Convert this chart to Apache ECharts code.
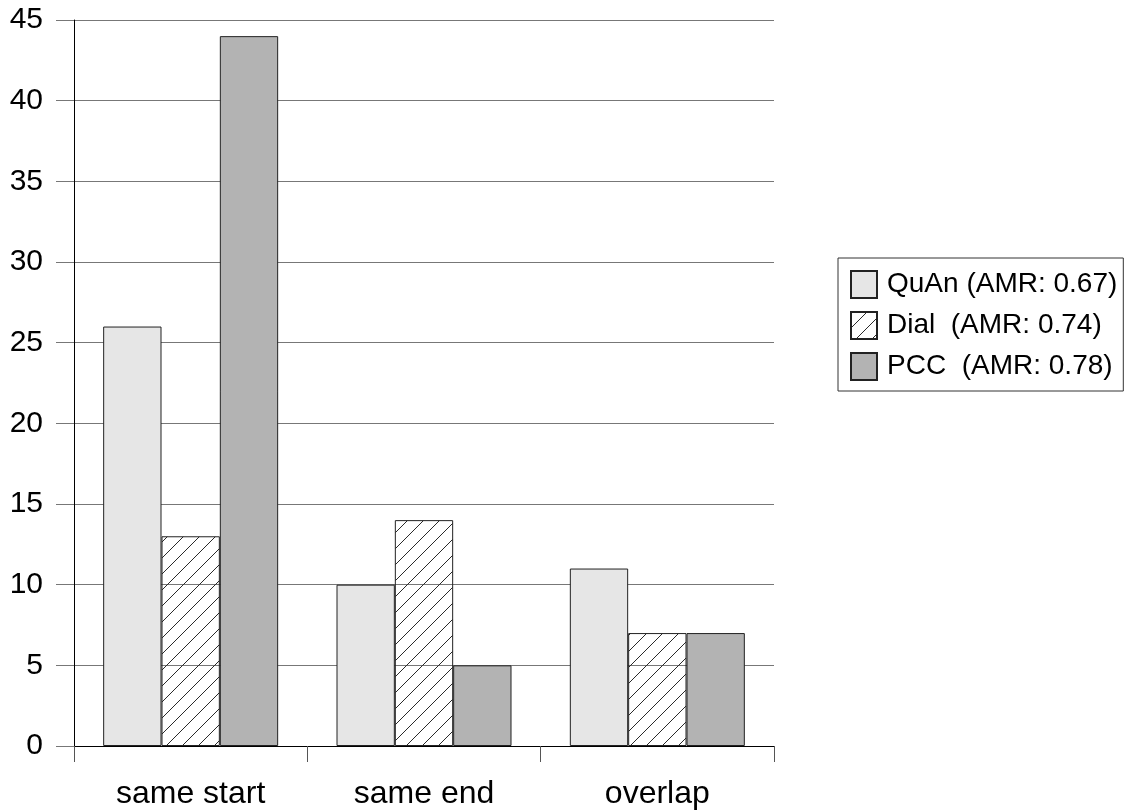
<!DOCTYPE html>
<html>
<head>
<meta charset="utf-8">
<script src="https://cdn.jsdelivr.net/npm/echarts@6/dist/echarts.min.js"></script>
<style>
html,body{margin:0;padding:0;background:#fff;}
#chart{width:1126px;height:811px;}
</style>
</head>
<body>
<div id="chart"></div>
<script>
const categories = ['same start', 'same end', 'overlap'];
const seriesNames = ['QuAn (AMR: 0.67)', 'Dial  (AMR: 0.74)', 'PCC  (AMR: 0.78)'];
const quanValues = [26, 10, 11];
const dialValues = [13, 14, 7];
const pccValues = [44, 5, 7];
const yMin = 0, yMax = 45, yStep = 5;

function hatch() {
  const s = 16;
  const c = document.createElement('canvas');
  c.width = s; c.height = s;
  const g = c.getContext('2d');
  g.strokeStyle = '#2a2a2a';
  g.lineWidth = 1;
  g.beginPath();
  g.moveTo(0, s); g.lineTo(s, 0);
  g.moveTo(-s/2, s/2); g.lineTo(s/2, -s/2);
  g.moveTo(s/2, s*1.5); g.lineTo(s*1.5, s/2);
  g.stroke();
  return c;
}

const font = '"Liberation Sans", Arial, sans-serif';
const border = {borderColor: '#222', borderWidth: 1};

const chart = echarts.init(document.getElementById('chart'), null, {renderer: 'canvas'});
chart.setOption({
  animation: false,
  backgroundColor: '#fff',
  textStyle: {fontFamily: font},
  grid: {left: 74, right: 352, top: 20, bottom: 65, containLabel: false},
  legend: {
    orient: 'vertical',
    left: 838, top: 258,
    padding: [12, 6, 10, 12],
    borderColor: '#333', borderWidth: 1,
    itemWidth: 26, itemHeight: 27, itemGap: 12,
    textStyle: {fontSize: 28, color: '#000', fontFamily: font, lineHeight: 28, padding: [0, 0, 0, 5]},
    data: seriesNames.map(n => ({name: n, icon: 'rect'}))
  },
  xAxis: {
    type: 'category',
    data: categories,
    boundaryGap: true,
    axisLine: {lineStyle: {color: '#000', width: 1}},
    axisTick: {show: true, length: 16, lineStyle: {color: '#555'}},
    axisLabel: {fontSize: 32, color: '#000', margin: 32, fontFamily: font}
  },
  yAxis: {
    type: 'value',
    min: yMin, max: yMax, interval: yStep,
    axisLine: {show: true, lineStyle: {color: '#000', width: 1}},
    axisTick: {show: true, inside: false, length: 18, lineStyle: {color: '#777'}},
    axisLabel: {fontSize: 30, color: '#000', margin: 31, fontFamily: font},
    splitLine: {show: true, lineStyle: {color: '#777', width: 1}}
  },
  series: [
    {name: seriesNames[0], type: 'bar', data: quanValues, barGap: '0%', barCategoryGap: '25%',
     itemStyle: Object.assign({color: '#e6e6e6'}, border)},
    {name: seriesNames[1], type: 'bar', data: dialValues, barGap: '0%', barCategoryGap: '25%',
     itemStyle: Object.assign({color: {image: hatch(), repeat: 'repeat'}}, border)},
    {name: seriesNames[2], type: 'bar', data: pccValues, barGap: '0%', barCategoryGap: '25%',
     itemStyle: Object.assign({color: '#b3b3b3'}, border)}
  ]
});
</script>
</body>
</html>
